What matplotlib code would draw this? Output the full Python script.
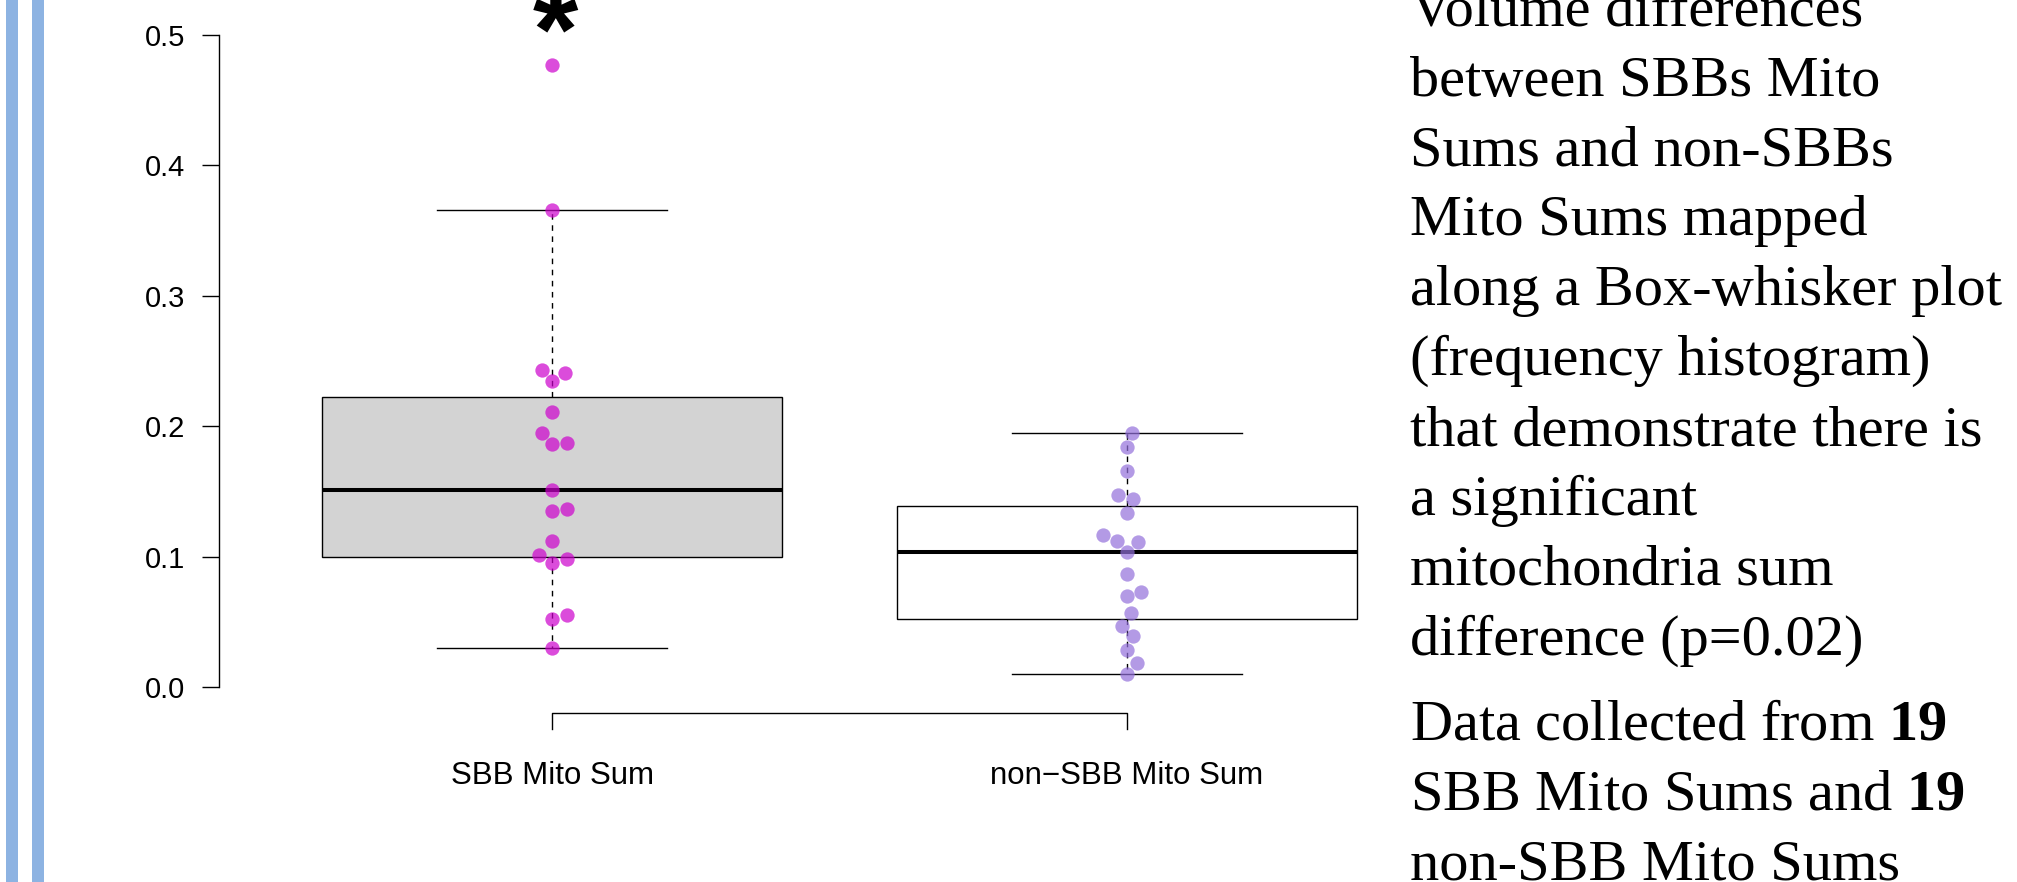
import numpy as np
import matplotlib
matplotlib.use("Agg")
import matplotlib.pyplot as plt
from matplotlib.patches import Rectangle

# values (volume fraction)
sbb_vals = [0.4766, 0.3655, 0.2431, 0.2407, 0.2347, 0.2107, 0.1945, 0.1860,
            0.1874, 0.1511, 0.1352, 0.1367, 0.1123, 0.1014, 0.0954, 0.0979,
            0.0520, 0.0552, 0.0298]
non_sbb_vals = [0.1948, 0.1841, 0.1654, 0.1469, 0.1439, 0.1334, 0.1162, 0.1121,
                0.1111, 0.1034, 0.0868, 0.0701, 0.0732, 0.0566, 0.0471, 0.0389,
                0.0284, 0.0182, 0.0098]
group_labels = ["SBB Mito Sum", "non\u2212SBB Mito Sum"]
box_fill = ["#D3D3D3", "white"]
dot_colors = ["#CD00CD", "#9370DB"]
y_ticks = [0.0, 0.1, 0.2, 0.3, 0.4, 0.5]

caption = [
    "Volume differences",
    "between SBBs Mito",
    "Sums and non-SBBs",
    "Mito Sums mapped",
    "along a Box-whisker plot",
    "(frequency histogram)",
    "that demonstrate there is",
    "a significant",
    "mitochondria sum",
    "difference (p=0.02)",
]
caption2 = [
    "Data collected from $\\mathbf{19}$",
    "SBB Mito Sums and $\\mathbf{19}$",
    "non-SBB Mito Sums",
]

plt.rcParams["mathtext.fontset"] = "custom"
plt.rcParams["mathtext.rm"] = "Liberation Serif"
plt.rcParams["mathtext.bf"] = "Liberation Serif:bold"

W, H = 2017, 882
fig = plt.figure(figsize=(W / 100, H / 100), dpi=100)

# blue poster bars on the left
for x0 in (6, 32):
    fig.add_artist(Rectangle((x0 / W, 0), 12 / W, 1, transform=fig.transFigure,
                             facecolor="#8DB3E2", edgecolor="none"))

ax = fig.add_axes([219 / W, (H - 745.7) / H, 1241 / W, 745.7 / H])
ax.set_xlim(0.42, 2.58)
ax.set_ylim(-0.045, 0.5268)

data = [sbb_vals, non_sbb_vals]
positions = [1, 2]

bp = ax.boxplot(data, positions=positions, widths=0.8, capwidths=0.4,
                showfliers=False, patch_artist=True, whis=1.5,
                medianprops=dict(color="black", linewidth=2.9),
                boxprops=dict(edgecolor="black", linewidth=1.0),
                whiskerprops=dict(color="black", linewidth=1.0, linestyle=(0, (4, 4))),
                capprops=dict(color="black", linewidth=1.0))
for patch, fc in zip(bp["boxes"], box_fill):
    patch.set_facecolor(fc)


def swarm(ax, xpos, vals, spacing=15.0):
    # simple beeswarm: place points in ascending order, closest free spot to centre
    pts = ax.transData.transform(np.column_stack([np.full(len(vals), xpos), vals]))
    x0 = pts[0, 0]
    ys = pts[:, 1]
    dx = np.zeros(len(vals))
    placed = []
    for i in np.argsort(ys, kind="stable"):
        y = ys[i]
        cands = [0.0]
        for px, py in placed:
            d = abs(y - py)
            if d < spacing:
                h = np.sqrt(spacing ** 2 - d ** 2)
                cands += [px + h, px - h]
        ok = [c for c in cands
              if all((c - px) ** 2 + (y - py) ** 2 >= spacing ** 2 - 1e-6 for px, py in placed)]
        best = min(ok, key=lambda c: (round(abs(c), 6), -c))
        dx[i] = best
        placed.append((best, y))
    back = ax.transData.inverted().transform(np.column_stack([x0 + dx, ys]))
    return back[:, 0]


for pos, vals, col in zip(positions, data, dot_colors):
    xs = swarm(ax, pos, vals)
    ax.plot(xs, vals, "o", color=col, alpha=0.7, markersize=10.3,
            markeredgewidth=0, zorder=5)

# significance bracket under the boxes
br_top, br_bot = -0.020, -0.032
ax.plot([positions[0], positions[0], positions[1], positions[1]],
        [br_bot, br_top, br_top, br_bot], color="black", linewidth=1.0, clip_on=False)
ax.annotate("*", xy=(positions[0], max(sbb_vals)), xytext=(2, -3),
            textcoords="offset points", ha="center", va="baseline",
            fontsize=84, fontweight="bold", family="Liberation Sans",
            annotation_clip=False)

for s in ("top", "right", "bottom"):
    ax.spines[s].set_visible(False)
ax.spines["left"].set_bounds(0, 0.5)
ax.spines["left"].set_linewidth(1.0)
ax.set_yticks(y_ticks)
ax.set_yticklabels([f"{v:.1f}" for v in y_ticks])
ax.tick_params(axis="y", length=12.2, width=1.0, pad=12, labelsize=21)
ax.set_xticks(positions)
ax.set_xticklabels(group_labels)
ax.tick_params(axis="x", length=0, pad=11, labelsize=22.5)
for lab in ax.get_xticklabels() + ax.get_yticklabels():
    lab.set_family("Liberation Sans")

# caption text on the right
tx = 1410 / W
for k, line in enumerate(caption):
    fig.text(tx, 1 - (25.7 + 69.9 * k) / H, line, family="Liberation Serif",
             fontsize=42, va="baseline", ha="left")
for k, line in enumerate(caption2):
    fig.text(tx, 1 - (739 + 70 * k) / H, line, family="Liberation Serif",
             fontsize=42, va="baseline", ha="left")

fig.savefig("out.png", dpi=100)
